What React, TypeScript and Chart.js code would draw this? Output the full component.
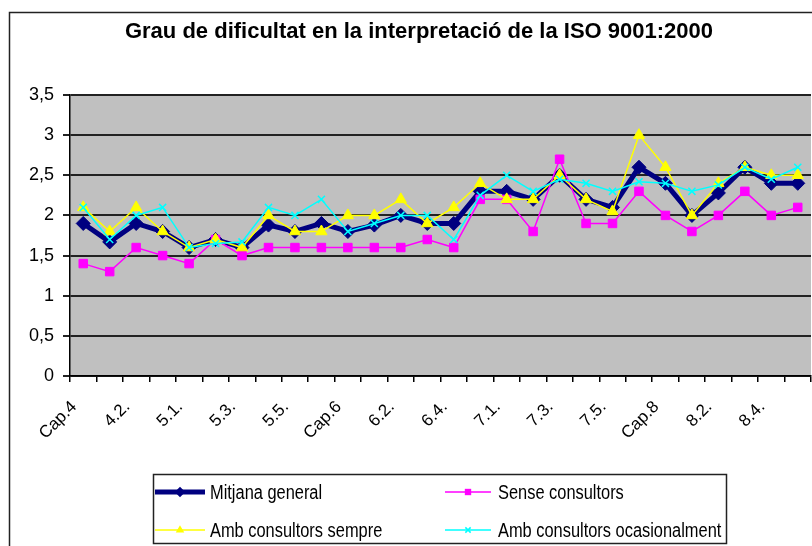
import React, { useEffect, useRef } from "react";
import { Chart, registerables } from "chart.js";

Chart.register(...registerables);

const TITLE = "Grau de dificultat en la interpretació de la ISO 9001:2000";

const categories = [
  "Cap.4", "4.1.", "4.2.", "Cap.5", "5.1.", "5.2.", "5.3.", "5.4.", "5.5.", "5.6.",
  "Cap.6", "6.1.", "6.2.", "6.3.", "6.4.", "Cap.7", "7.1.", "7.2.", "7.3.", "7.4.",
  "7.5.", "7.6.", "Cap.8", "8.1.", "8.2.", "8.3.", "8.4.", "8.5.",
];

const mitjanaGeneral = [
  1.9, 1.67, 1.9, 1.8, 1.6, 1.7, 1.6, 1.88, 1.8, 1.9,
  1.8, 1.88, 2.0, 1.9, 1.9, 2.3, 2.3, 2.2, 2.5, 2.2,
  2.1, 2.6, 2.4, 2.0, 2.28, 2.6, 2.4, 2.4,
];
const senseConsultors = [
  1.4, 1.3, 1.6, 1.5, 1.4, 1.7, 1.5, 1.6, 1.6, 1.6,
  1.6, 1.6, 1.6, 1.7, 1.6, 2.2, 2.2, 1.8, 2.7, 1.9,
  1.9, 2.3, 2.0, 1.8, 2.0, 2.3, 2.0, 2.1,
];
const ambConsultorsSempre = [
  2.1, 1.8, 2.1, 1.8, 1.6, 1.7, 1.6, 2.0, 1.8, 1.8,
  2.0, 2.0, 2.2, 1.9, 2.1, 2.4, 2.2, 2.2, 2.5, 2.2,
  2.05, 3.0, 2.6, 2.0, 2.4, 2.6, 2.5, 2.5,
];
const ambConsultorsOcasionalment = [
  2.1, 1.7, 2.0, 2.1, 1.6, 1.65, 1.67, 2.1, 2.0, 2.2,
  1.8, 1.9, 2.0, 2.0, 1.7, 2.25, 2.5, 2.3, 2.45, 2.4,
  2.3, 2.42, 2.4, 2.3, 2.38, 2.6, 2.45, 2.6,
];

const SANS = "'Liberation Sans', Arial, sans-serif";

const seriesStyles = [
  { label: "Mitjana general", data: mitjanaGeneral, color: "#000080", style: "rectRot", radius: 7, lineWidth: 5, order: 4 },
  { label: "Sense consultors", data: senseConsultors, color: "#FF00FF", style: "rect", radius: 6, lineWidth: 1.5, order: 3 },
  { label: "Amb consultors sempre", data: ambConsultorsSempre, color: "#FFFF00", style: "triangle", radius: 6.5, lineWidth: 1.5, order: 2 },
  { label: "Amb consultors ocasionalment", data: ambConsultorsOcasionalment, color: "#00FFFF", style: "crossRot", radius: 5, lineWidth: 1.5, order: 1 },
];

function drawMarker(ctx: CanvasRenderingContext2D, style: string, x: number, y: number, r: number, color: string) {
  ctx.save();
  ctx.fillStyle = color;
  ctx.strokeStyle = color;
  ctx.lineWidth = 1.5;
  ctx.beginPath();
  if (style === "rectRot") {
    ctx.moveTo(x, y - r); ctx.lineTo(x + r, y); ctx.lineTo(x, y + r); ctx.lineTo(x - r, y); ctx.closePath();
    ctx.fill();
  } else if (style === "rect") {
    const s = r * Math.SQRT1_2;
    ctx.rect(x - s, y - s, 2 * s, 2 * s);
    ctx.fill();
  } else if (style === "triangle") {
    ctx.moveTo(x, y - r); ctx.lineTo(x + r * 0.87, y + r * 0.5); ctx.lineTo(x - r * 0.87, y + r * 0.5); ctx.closePath();
    ctx.fill();
  } else {
    const d = r * Math.SQRT1_2;
    ctx.moveTo(x - d, y - d); ctx.lineTo(x + d, y + d);
    ctx.moveTo(x - d, y + d); ctx.lineTo(x + d, y - d);
    ctx.stroke();
  }
  ctx.restore();
}

const decorPlugin = {
  id: "decor",
  beforeDraw(chart: any) {
    const { ctx, chartArea } = chart;
    ctx.save();
    ctx.fillStyle = "#ffffff";
    ctx.fillRect(0, 0, chart.width, chart.height);
    // outer frame
    ctx.strokeStyle = "#222";
    ctx.lineWidth = 1.5;
    ctx.strokeRect(9.5, 12.5, 900, 700);
    // plot background
    ctx.fillStyle = "#c0c0c0";
    ctx.fillRect(chartArea.left, chartArea.top, chartArea.right - chartArea.left, chartArea.bottom - chartArea.top);
    // title
    ctx.fillStyle = "#000";
    ctx.font = `bold 22px ${SANS}`;
    ctx.textAlign = "center";
    ctx.textBaseline = "alphabetic";
    ctx.fillText(TITLE, 419, 38);
    ctx.restore();
  },
  afterDraw(chart: any) {
    const { ctx } = chart;
    ctx.save();
    ctx.strokeStyle = "#222";
    ctx.lineWidth = 1.5;
    ctx.strokeRect(153.5, 474.5, 573, 69);
    const cols = [
      { lx: 155, lw: 50, tx: 210 },
      { lx: 445, lw: 46, tx: 498 },
    ];
    const rows = [492, 530];
    seriesStyles.forEach((s, i) => {
      const c = cols[i % 2];
      const y = rows[Math.floor(i / 2)];
      ctx.strokeStyle = s.color;
      ctx.lineWidth = s.lineWidth;
      ctx.beginPath();
      ctx.moveTo(c.lx, y);
      ctx.lineTo(c.lx + c.lw, y);
      ctx.stroke();
      drawMarker(ctx, s.style, c.lx + c.lw / 2, y, s.radius * 0.75, s.color);
      ctx.save();
      ctx.fillStyle = "#000";
      ctx.font = `20px ${SANS}`;
      ctx.textAlign = "left";
      ctx.textBaseline = "middle";
      ctx.translate(c.tx, y + 1);
      ctx.scale(0.82, 1);
      ctx.fillText(s.label, 0, 0);
      ctx.restore();
    });
    ctx.restore();
  },
};

export default function App() {
  const canvasRef = useRef<HTMLCanvasElement | null>(null);

  useEffect(() => {
    if (!canvasRef.current) return;
    const chart = new Chart(canvasRef.current, {
      type: "line",
      data: {
        labels: categories,
        datasets: seriesStyles.map((s) => ({
          label: s.label,
          data: s.data,
          borderColor: s.color,
          backgroundColor: s.color,
          borderWidth: s.lineWidth,
          pointStyle: s.style as any,
          pointRadius: s.radius,
          pointBackgroundColor: s.color,
          pointBorderColor: s.color,
          pointBorderWidth: s.style === "crossRot" ? 1.5 : 1,
          tension: 0,
          fill: false,
          order: s.order,
        })),
      },
      options: {
        responsive: false,
        animation: false,
        devicePixelRatio: 1,
        layout: { autoPadding: false, padding: { top: 95, left: 0, right: 1, bottom: 70 } },
        plugins: {
          legend: { display: false },
          title: { display: false },
          tooltip: { enabled: false },
        },
        scales: {
          x: {
            type: "category",
            offset: true,
            grid: {
              offset: true,
              drawOnChartArea: false,
              drawTicks: true,
              tickLength: 6,
              color: "#000",
              lineWidth: 1.5,
            },
            border: { display: true, color: "#000", width: 1.5 },
            ticks: {
              autoSkip: false,
              maxRotation: 45,
              minRotation: 45,
              padding: 15,
              labelOffset: -9,
              color: "#000",
              font: { family: SANS, size: 17 },
              callback: (_v: any, i: number) => (i % 2 === 0 ? categories[i] : ""),
            },
            afterFit: (scale: any) => {
              scale.height = 100;
              scale.paddingLeft = 0;
              scale.paddingRight = 0;
            },
          },
          y: {
            min: 0,
            max: 3.5,
            grid: {
              color: "#222",
              lineWidth: 2,
              drawTicks: true,
              tickLength: 7,
            },
            border: { display: true, color: "#000", width: 1.5 },
            ticks: {
              stepSize: 0.5,
              padding: 9,
              color: "#000",
              font: { family: SANS, size: 18 },
              callback: (v: any) => String(v).replace(".", ","),
            },
            afterFit: (scale: any) => {
              scale.width = 70;
            },
          },
        },
      },
      plugins: [decorPlugin],
    });
    return () => chart.destroy();
  }, []);

  return (
    <div style={{ position: "absolute", left: 0, top: 0, width: 812, height: 546, background: "#fff" }}>
      <canvas ref={canvasRef} width={812} height={546} style={{ display: "block" }} />
    </div>
  );
}
